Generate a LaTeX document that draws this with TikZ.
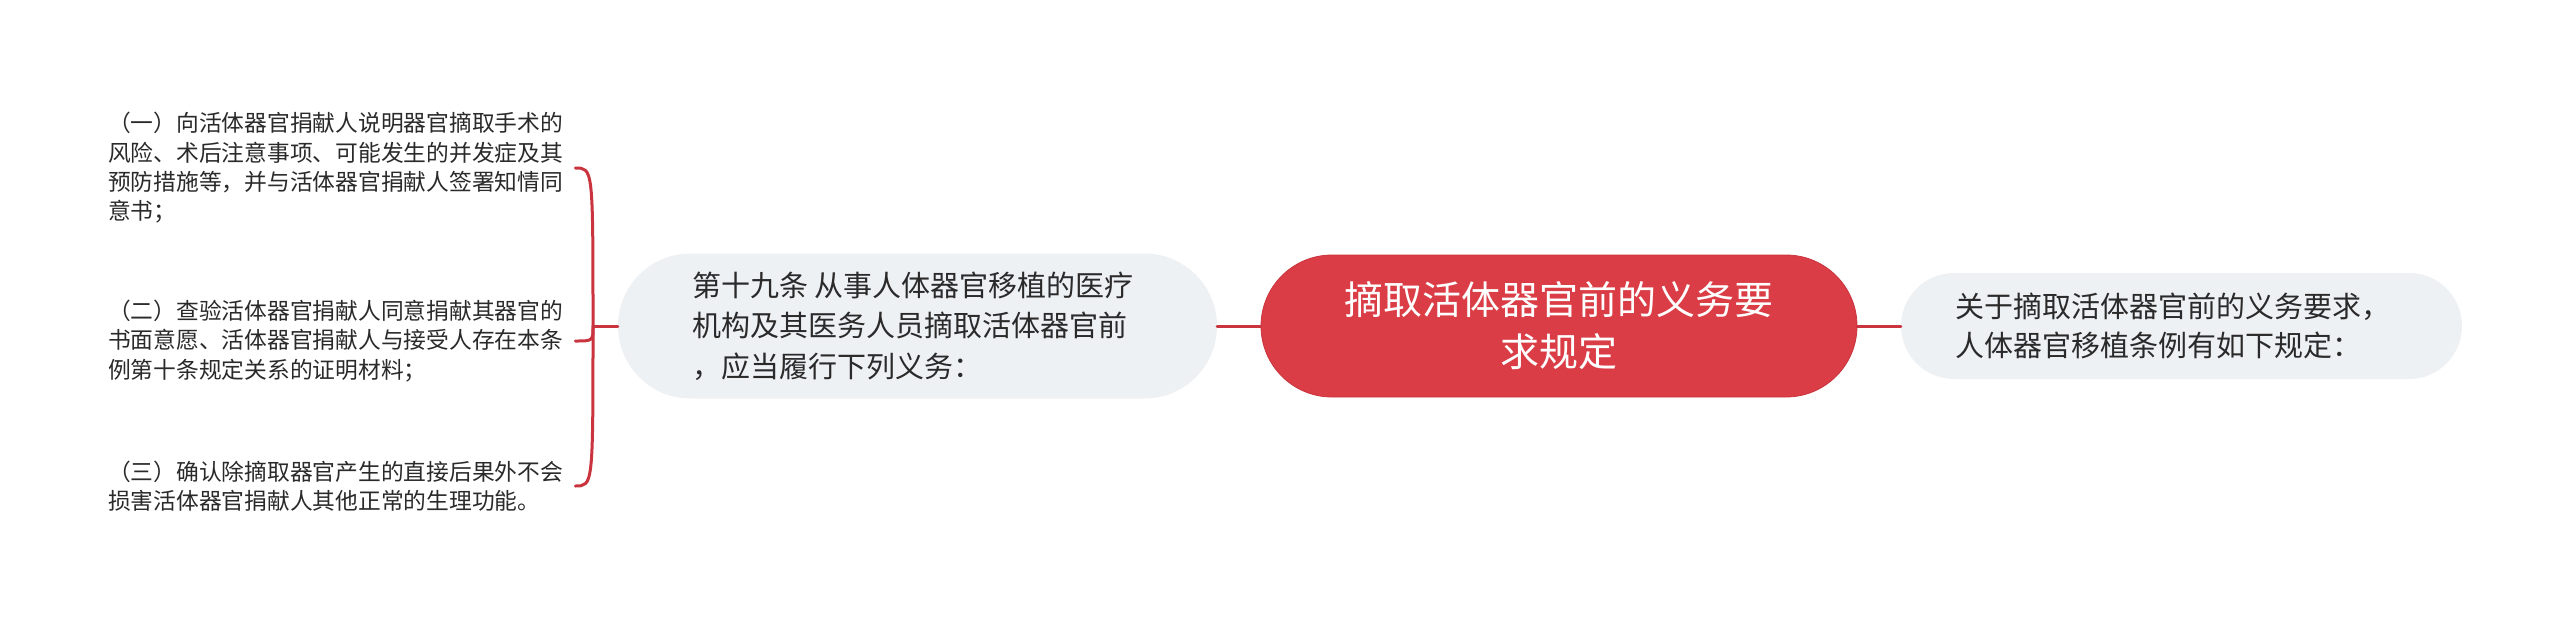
\documentclass[tikz,border=0pt]{standalone}
\usepackage{fontspec}
\newfontfamily\cjk{Noto Sans CJK SC}
\usetikzlibrary{calc}
\definecolor{redfill}{HTML}{DA3D45}
\definecolor{redline}{HTML}{C9343E}
\definecolor{greyfill}{HTML}{EEF1F4}
\definecolor{txt}{HTML}{2A2A2A}
\tikzset{
  conn/.style={draw=redline, line width=3pt, line cap=round},
  childtext/.style={inner xsep=12pt, inner ysep=4pt, anchor=west, text width=455pt, align=left,
    text=txt, font=\cjk\fontsize{22.75pt}{29.3pt}\selectfont},
  greypill/.style={fill=greyfill, draw=none, align=left, text=txt},
  rootnode/.style={fill=redfill, draw=redline, line width=0.8pt, align=center, text=white,
    font=\cjk\fontsize{39pt}{52pt}\selectfont}
}
\begin{document}
\begin{tikzpicture}[x=1pt,y=-1pt]
\useasboundingbox (0,0) rectangle (2560,624);
\fill[white] (0,0) rectangle (2560,624);

\node[rootnode, minimum width=596pt, minimum height=142pt, rounded corners=71pt, inner sep=0pt]
  (root) at (1559,326) {摘取活体器官前的义务要\\求规定};

\node[greypill, minimum width=599pt, minimum height=145pt, rounded corners=72.5pt, inner sep=0pt,
  text width=450pt, font=\cjk\fontsize{29pt}{40.5pt}\selectfont]
  (art) at (917.5,326) {第十九条\hspace{6pt}从事人体器官移植的医疗\\机构及其医务人员摘取活体器官前\\，应当履行下列义务：};

\node[greypill, minimum width=561pt, minimum height=106pt, rounded corners=53pt, inner sep=0pt,
  text width=452pt, font=\cjk\fontsize{29pt}{39pt}\selectfont]
  (intro) at (2181.5,326) {关于摘取活体器官前的义务要求，\\人体器官移植条例有如下规定：};

\node[childtext] (c1) at (96,168) {（一）向活体器官捐献人说明器官摘取手术的\\风险、术后注意事项、可能发生的并发症及其\\预防措施等，并与活体器官捐献人签署知情同\\意书；};
\node[childtext] (c2) at (96,341) {（二）查验活体器官捐献人同意捐献其器官的\\书面意愿、活体器官捐献人与接受人存在本条\\例第十条规定关系的证明材料；};
\node[childtext] (c3) at (96,486) {（三）确认除摘取器官产生的直接后果外不会\\损害活体器官捐献人其他正常的生理功能。};

\draw[conn] (root.east) -- (intro.west);
\draw[conn] (art.east) -- (root.west);
\coordinate (j) at (593,326);
\draw[conn] (art.west) -- (j);
\draw[conn] (j) .. controls (j |- c1.east) .. (c1.east);
\draw[conn] (j) .. controls (j |- c2.east) .. (c2.east);
\draw[conn] (j) .. controls (j |- c3.east) .. (c3.east);
\end{tikzpicture}
\end{document}
